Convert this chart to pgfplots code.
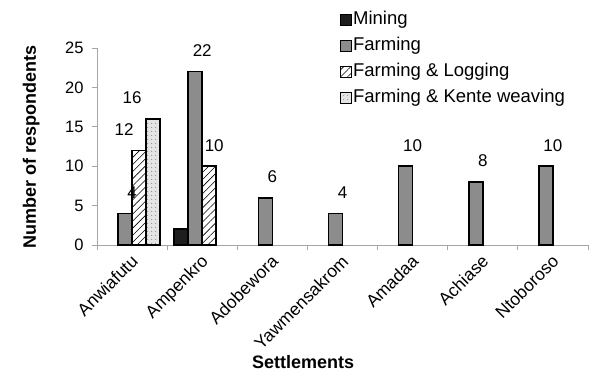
\documentclass[border=0pt]{standalone}
\usepackage{fontspec}
\setmainfont{Liberation Sans}
\usepackage{pgfplots}
\pgfplotsset{compat=1.18}
\usetikzlibrary{patterns.meta}

\definecolor{farmgray}{HTML}{8C8C8C}
\definecolor{minedark}{HTML}{1E1E1E}
\definecolor{axisgray}{HTML}{A6A6A6}
\definecolor{kentefill}{HTML}{E4E4E4}

\pgfplotsset{
  squareleg/.style={legend image code/.code={%
      \draw[##1, line width=0.8pt] (0pt,-5.5pt) rectangle (11pt,5.5pt);}},
  barbase/.style={ybar, bar width=0.2, draw=black, line width=1.6pt, squareleg},
  numlabel/.style={nodes near coords,
      every node near coord/.append style={font=\fontsize{17}{17}\selectfont,
        anchor=south, inner sep=0pt, yshift=14pt, text=black}},
  mining/.style={barbase, fill=minedark, bar shift=-0.3},
  farming/.style={barbase, fill=farmgray, bar shift=-0.1},
  logging/.style={barbase, fill=white,
      postaction={pattern={Lines[angle=45, distance=5pt, line width=0.6pt]}, pattern color=black},
      bar shift=0.1},
  kente/.style={barbase, fill=kentefill,
      postaction={pattern={Dots[distance=4pt, radius=0.55pt]}, pattern color=black!55},
      bar shift=0.3},
}

\begin{document}
\begin{tikzpicture}
\path[use as bounding box] (-97pt,-130pt) rectangle (511pt,245pt);
\begin{axis}[
  at={(0,0)}, anchor=south west,
  scale only axis, width=491pt, height=197pt,
  ymin=0, ymax=25, ytick={0,5,...,25},
  xmin=-0.5, xmax=6.5,
  xtick={0,...,6},
  xticklabels={Anwiafutu,Ampenkro,Adobewora,Yawmensakrom,Amadaa,Achiase,Ntoboroso},
  minor xtick={-0.5,0.5,...,6.5},
  axis x line*=bottom, axis y line*=left,
  axis line style={axisgray, line width=0.8pt},
  tick align=outside,
  major tick length=5pt, minor tick length=5pt,
  major x tick style={draw=none},
  minor x tick style={axisgray, line width=0.8pt},
  ytick style={axisgray, line width=0.8pt},
  /pgf/number format/assume math mode=true,
  yticklabel style={font=\fontsize{16.5}{16.5}\selectfont, text=black, xshift=-5pt},
  xticklabel style={font=\fontsize{17.5}{17.5}\selectfont, rotate=45,
      anchor=north east, inner sep=1pt, xshift=-3pt, text=black},
  ylabel={Number of respondents},
  ylabel style={at={(axis description cs:-0.134,0.497)}, anchor=center,
      font=\fontsize{18}{18}\selectfont\bfseries},
  xlabel={Settlements},
  xlabel style={at={(axis description cs:0.42,-0.594)}, anchor=center,
      font=\fontsize{18}{18}\selectfont\bfseries},
  legend style={at={(axis description cs:0.489,1.203)}, anchor=north west,
      draw=none, fill=none, font=\fontsize{18.5}{18.5}\selectfont,
      nodes={inner sep=1pt, text height=13pt, text depth=4pt},
      row sep=7pt},
  legend cell align=left,
  clip=false,
]
\addplot[mining] coordinates {(1,2)};
\addlegendentry{Mining}
\addplot[farming, numlabel] coordinates {(0,4) (1,22) (2,6) (3,4) (4,10) (5,8) (6,10)};
\addlegendentry{Farming}
\addplot[logging, numlabel, every node near coord/.append style={xshift=-8pt}] coordinates {(0,12)};
\addlegendentry{Farming \& Logging}
\addplot[logging, numlabel, forget plot, every node near coord/.append style={xshift=12pt}] coordinates {(1,10)};
\addplot[kente, numlabel] coordinates {(0,16)};
\addlegendentry{Farming \& Kente weaving}
\end{axis}
\end{tikzpicture}
\end{document}
